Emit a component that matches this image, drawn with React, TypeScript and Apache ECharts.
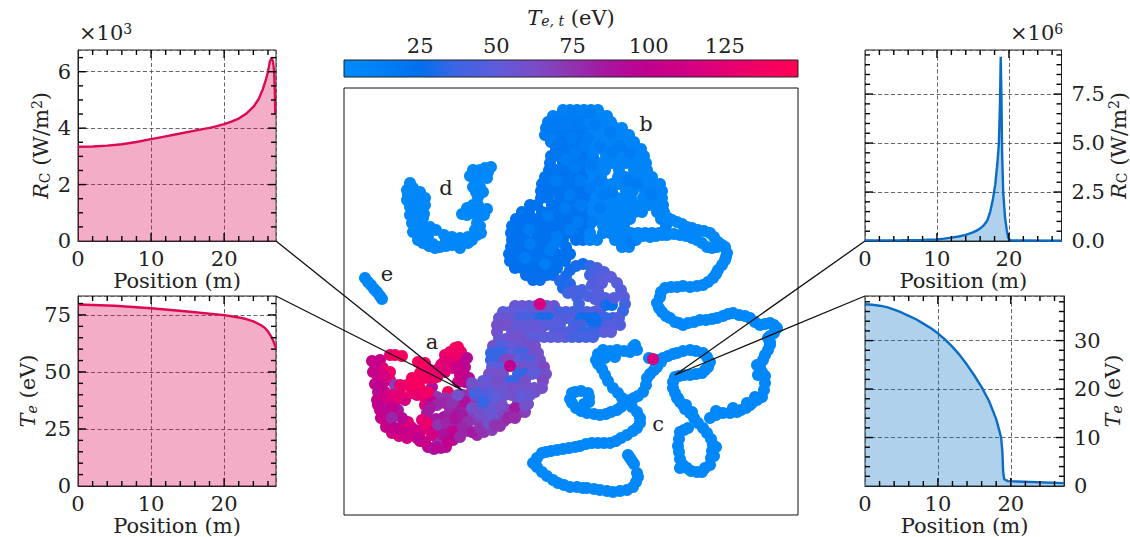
import React, { useEffect, useRef } from "react";
import * as echarts from "echarts";

// ---------- line panels ----------
const redRPos = [0, 2, 4, 6, 8, 10, 12, 14, 16, 18, 19, 20, 21, 22, 23, 24, 24.7, 25.3, 25.7, 26, 26.25, 26.5, 26.7, 26.85, 26.95, 27];
const redRVal = [3.34, 3.35, 3.38, 3.43, 3.51, 3.61, 3.71, 3.81, 3.91, 4.01, 4.07, 4.14, 4.23, 4.34, 4.51, 4.75, 5.02, 5.38, 5.7, 6.0, 6.35, 6.5, 6.35, 6.0, 5.2, 4.5];
const redTPos = [0, 5, 10, 15, 20, 21, 22, 23, 24, 25, 25.5, 26, 26.5, 26.8, 27.1];
const redTVal = [79.6, 79.0, 77.9, 76.5, 74.9, 74.4, 73.9, 73.2, 72.2, 70.6, 69.5, 67.8, 65.2, 63, 60.5];
const blueRPos = [0, 5, 8, 10, 11, 12, 13, 14, 15, 15.5, 16, 16.5, 17, 17.4, 17.76, 18.1, 18.4, 18.6, 18.75, 18.86, 18.95, 19.05, 19.2, 19.45, 19.7, 19.9, 20.2, 27.3];
const blueRVal = [0.03, 0.04, 0.05, 0.08, 0.12, 0.17, 0.23, 0.31, 0.44, 0.53, 0.64, 0.8, 1.05, 1.5, 2.1, 2.9, 4.0, 5.0, 7.0, 9.4, 7.5, 4.5, 2.5, 1.2, 0.55, 0.15, 0.03, 0.01];
const blueTPos = [0, 1, 2, 3, 4, 5, 6, 7, 8, 9, 10, 11, 12, 13, 14, 15, 16, 17, 18, 18.5, 18.67, 18.85, 18.95, 19.1, 19.6, 27.3];
const blueTVal = [37.5, 37.4, 37.2, 36.9, 36.4, 35.8, 35.1, 34.4, 33.5, 32.6, 31.5, 30.2, 28.7, 27, 25, 22.8, 20.4, 17.6, 13.8, 11, 10, 7, 3, 1.4, 1.0, 0.6];

// ---------- tick labels ----------
const posTicks = [0, 10, 20];
const posMinor = [2, 4, 6, 8, 12, 14, 16, 18, 22, 24, 26];
const rcLeftTicks = [0, 2, 4, 6];
const rcLeftMinor = [0.5, 1, 1.5, 2.5, 3, 3.5, 4.5, 5, 5.5, 6.5];
const teLeftTicks = [0, 25, 50, 75];
const teLeftMinor = [5, 10, 15, 20, 30, 35, 40, 45, 55, 60, 65, 70, 80];
const rcRightTicks = [0, 2.5, 5, 7.5];
const rcRightMinor = [0.5, 1, 1.5, 2, 3, 3.5, 4, 4.5, 5.5, 6, 6.5, 7, 8, 8.5, 9, 9.5];
const teRightTicks = [0, 10, 20, 30];
const teRightMinor = [2, 4, 6, 8, 12, 14, 16, 18, 22, 24, 26, 28, 32, 34, 36, 38];
const colorbarTicks = [25, 50, 75, 100, 125];

const colorStops = ["#008bfb", "#007ff6", "#0070ee", "#3f64e3", "#5c5cdb", "#7a4dc8", "#9034b0", "#a8149f", "#c0008f", "#d00085", "#e20075", "#f20064", "#ff0052"];

// ---------- embedding points ----------
// rows: [y, T, x, x, ...]
const bLeftRows = [
  [110, 10, 563, 570, 577, 584],
  [116, 12, 553, 560, 567, 574, 581, 588],
  [122, 14, 548, 555, 562, 569, 576, 583],
  [128, 16, 546, 553, 560, 567, 574, 581, 588],
  [135, 18, 545, 552, 561, 568, 575, 582],
  [142, 18, 551, 557, 564, 571, 578, 585],
  [149, 20, 556, 563, 570, 577, 588],
  [156, 20, 551, 558, 565, 572, 579, 586],
  [163, 20, 550, 563, 570, 577, 584],
  [170, 21, 549, 556, 563, 570, 577, 584],
  [177, 21, 545, 552, 559, 566, 573, 580, 587],
  [184, 21, 542, 549, 556, 563, 570, 577, 584],
  [191, 22, 541, 548, 555, 562, 569, 576, 583],
  [198, 22, 541, 548, 560, 567, 574, 581, 589],
  [205, 22, 530, 537, 552, 559, 566, 573, 586],
  [212, 23, 522, 529, 542, 549, 556, 563, 570, 577, 585],
  [219, 23, 516, 523, 530, 537, 544, 551, 558, 565, 572, 579, 586],
  [226, 23, 512, 519, 526, 533, 540, 547, 554, 561, 568, 575, 582, 589],
  [233, 23, 511, 518, 525, 537, 544, 551, 564, 571, 583],
  [240, 23, 512, 519, 526, 535, 542, 549, 556, 563, 576, 583],
  [247, 24, 511, 518, 525, 532, 539, 546, 553, 566],
  [254, 24, 509, 516, 523, 530, 537, 544, 557, 564, 570],
  [261, 24, 510, 517, 524, 531, 538, 545, 552, 559, 565],
  [268, 25, 515, 522, 529, 536, 543, 550, 557],
  [275, 26, 526, 533, 540, 547, 553],
  [280, 26, 533, 540],
];
const bRightRows = [
  [110, 6, 591, 598],
  [116, 6, 595, 602, 607],
  [122, 7, 590, 597, 604, 611],
  [128, 7, 595, 602, 609, 616, 622],
  [135, 7, 591, 598, 605, 615, 622, 629],
  [142, 7, 592, 599, 606, 613, 620, 627, 634],
  [149, 7, 595, 602, 609, 616, 623, 630, 637, 641],
  [156, 7, 593, 606, 613, 620, 627, 634, 641, 644],
  [163, 7, 598, 605, 612, 619, 626, 636, 643, 646],
  [170, 7, 591, 598, 605, 619, 634, 641, 647],
  [177, 7, 594, 601, 618, 625, 632, 639, 646, 652],
  [184, 7, 591, 598, 605, 612, 619, 626, 633, 640, 647, 654, 660],
  [191, 7, 597, 604, 611, 626, 633, 645, 657, 662],
  [198, 7, 596, 603, 610, 617, 624, 631, 643, 650, 657, 662],
  [205, 7, 593, 600, 607, 614, 621, 628, 635, 642, 649, 656, 663],
  [212, 7, 593, 600, 607, 614, 621, 628, 635, 642, 657, 664],
  [219, 7, 596, 603, 610, 617, 624, 630, 661, 667],
  [226, 7, 603, 610, 617, 624, 666],
  [233, 7, 590, 603, 610, 617, 624, 631, 638, 645, 652, 659, 665],
  [240, 7, 590, 597, 615, 622, 629, 636],
  [247, 7, 622, 629],
];
const bFill = [[572, 113], [590, 113], [565, 125], [595, 125], [550, 138], [572, 138], [588, 138], [610, 132], [585, 146], [600, 146], [620, 146], [575, 153], [592, 160], [612, 152], [630, 153], [566, 160], [575, 167], [591, 166], [628, 180], [556, 181], [580, 181], [599, 181], [612, 192], [637, 184], [651, 194], [590, 188], [570, 195], [603, 195], [581, 205], [548, 216], [565, 208], [600, 208], [578, 222], [592, 222], [529, 230], [557, 237], [570, 230], [530, 244], [555, 244], [525, 258], [550, 250], [545, 264], [631, 242]];
const bStrandRight = [[668, 218], [672, 220], [677, 222], [682, 224], [687, 227], [692, 228], [698, 230], [704, 231], [710, 233], [714, 237], [718, 242], [722, 245], [725, 247], [727, 253], [726, 257], [725, 260], [722, 265], [718, 270], [716, 274], [713, 278], [708, 282], [703, 285], [697, 286], [690, 287], [683, 286], [677, 287], [671, 287], [665, 288], [661, 292], [660, 297]];
const bStrandLower = [[637, 235], [643, 236], [650, 237], [656, 236], [662, 235], [667, 235], [674, 234], [680, 235], [686, 236], [692, 238], [697, 240], [702, 243], [707, 247], [712, 248], [717, 247]];
const cUpper = [[657, 303], [659, 308], [662, 312], [666, 316], [670, 318], [675, 322], [679, 323], [683, 325], [688, 323], [694, 322], [700, 320], [706, 320], [712, 319], [717, 318], [723, 316], [728, 314], [733, 313], [739, 315], [745, 316], [750, 318], [755, 322], [760, 325], [765, 324], [770, 323], [774, 325], [777, 328], [774, 333], [770, 336], [768, 338], [770, 342], [770, 345], [768, 350], [765, 355], [763, 360], [760, 367], [762, 372], [765, 376], [765, 383], [764, 390], [762, 397], [757, 400], [752, 403], [750, 405], [746, 408], [741, 410], [737, 412], [730, 413], [723, 413], [716, 415], [710, 418], [755, 397], [747, 403], [733, 408], [716, 411], [757, 365], [758, 375]];
const cLoopLeft = [[635, 345], [637, 350], [633, 347], [630, 352], [624, 351], [617, 350], [610, 351], [603, 350], [598, 354], [596, 360], [598, 364], [602, 369], [605, 375], [608, 381], [613, 388], [618, 393], [622, 398], [627, 402], [632, 407], [637, 412], [640, 418], [640, 423], [637, 428], [633, 431], [627, 435], [621, 438], [616, 441], [610, 443], [604, 443], [598, 443], [592, 443], [586, 444], [580, 446], [575, 447], [569, 448], [563, 449], [557, 450], [551, 451], [546, 452], [542, 453], [537, 458], [533, 463], [537, 467], [542, 472], [547, 476], [553, 480], [558, 483], [564, 485], [570, 487], [577, 487], [583, 488], [587, 488], [594, 489], [600, 490], [607, 491], [613, 492], [620, 491], [627, 490], [633, 487], [636, 482], [638, 477], [637, 473], [615, 357], [605, 358]];
const cFragment = [[628, 455], [630, 458], [632, 461], [634, 464]];
const cLoopRight = [[649, 358], [658, 360], [663, 358], [668, 356], [673, 354], [677, 353], [683, 351], [690, 350], [696, 351], [703, 353], [707, 357], [710, 362], [708, 367], [705, 370], [702, 373], [696, 374], [690, 375], [684, 375], [679, 376], [675, 377], [673, 382], [673, 388], [675, 393], [677, 398], [680, 402], [683, 405], [685, 409], [690, 413], [694, 418], [698, 423], [703, 428], [707, 433], [711, 439], [713, 445], [712, 451], [711, 458], [710, 465], [705, 468], [702, 472], [697, 472], [691, 471], [687, 468], [683, 465], [680, 459], [679, 452], [678, 446], [679, 439], [680, 432], [684, 430], [688, 428], [678, 398], [686, 405], [692, 412], [716, 447], [714, 456], [680, 468]];
const cCross = [[661, 362], [656, 363], [657, 367], [654, 370], [650, 374], [647, 378], [646, 385], [643, 392], [638, 396], [634, 398], [630, 400], [625, 404], [621, 407], [617, 410], [611, 412], [606, 414], [600, 415], [594, 414], [587, 413], [581, 411], [576, 408], [572, 403], [570, 399], [572, 393], [575, 392], [581, 391], [588, 393], [589, 397], [589, 402], [584, 404]];
const dPoints = [[410, 183], [413, 188], [420, 192], [408, 195], [425, 198], [407, 200], [413, 202], [425, 205], [410, 207], [422, 210], [410, 215], [423, 218], [412, 223], [420, 223], [413, 232], [422, 230], [430, 227], [418, 240], [428, 237], [436, 230], [440, 247], [444, 235], [433, 244], [452, 237], [452, 245], [460, 248], [460, 238], [468, 237], [468, 243], [477, 235], [475, 230], [477, 223], [462, 214], [467, 208], [473, 205], [473, 213], [480, 215], [487, 209], [478, 205], [478, 197], [473, 187], [480, 187], [473, 177], [473, 170], [480, 170], [485, 175], [491, 167], [487, 178], [485, 168],
  [416, 195], [420, 200], [416, 208], [417, 215], [414, 196], [418, 203], [416, 222], [407, 190], [424, 214], [416, 228], [423, 243], [429, 246], [446, 240], [446, 246], [435, 248], [456, 241], [464, 241], [472, 240], [481, 233], [480, 226], [483, 212], [476, 192], [483, 192], [476, 181], [470, 176], [488, 172], [467, 215], [476, 208], [484, 215]];
const ePoints = [[365, 278], [368, 282], [371, 285], [374, 289], [377, 292], [380, 296], [382, 299]];

const ringPoints = [[560, 281, 32], [566, 276, 30], [570, 270, 28], [576, 266, 30], [583, 264, 28], [590, 266, 35], [597, 268, 40], [604, 272, 45], [611, 277, 50], [617, 283, 48], [621, 290, 45], [624, 297, 50], [625, 304, 40], [623, 311, 35], [618, 318, 45], [563, 288, 30], [570, 284, 32], [568, 293, 38], [575, 291, 42], [582, 290, 40], [590, 275, 38], [596, 279, 45], [602, 283, 50], [592, 285, 45], [598, 291, 48], [605, 298, 45], [600, 303, 50], [606, 305, 30], [612, 305, 25], [614, 298, 48], [588, 296, 42], [577, 297, 40], [595, 299, 45], [579, 304, 38]];
// rows of the purple band: [y, T, x, ...]
const bandRows = [
  [306, 55, 515, 522, 529, 536, 547, 554],
  [312, 50, 503, 510, 517, 524, 531], [312, 55, 538, 545, 552], [312, 40, 559, 566, 573, 580], [312, 45, 587, 594, 600],
  [318, 55, 499, 506, 513], [318, 40, 520, 527, 534], [318, 30, 541, 548], [318, 45, 560, 567, 574], [318, 28, 581, 588, 595], [318, 35, 606, 613, 619],
  [325, 60, 497, 504, 511], [325, 52, 518, 525, 532, 539], [325, 48, 546, 553, 560], [325, 40, 574, 581], [325, 28, 593, 600], [325, 45, 607, 614, 620],
  [332, 60, 497], [332, 55, 512, 519, 526, 533, 540], [332, 45, 555, 562, 569, 576], [332, 35, 583, 590, 597], [332, 50, 604, 611],
  [337, 50, 530, 537, 544, 551, 558, 565], [337, 40, 572, 579, 586, 593],
  [339, 55, 499, 506], [339, 60, 513, 520],
  [346, 60, 493], [346, 45, 500, 507], [346, 55, 514, 521], [346, 60, 528, 535],
  [353, 35, 491, 498, 505], [353, 50, 512], [353, 40, 519, 526], [353, 60, 533, 538],
  [360, 35, 491, 498], [360, 65, 505, 512], [360, 50, 519], [360, 45, 526, 533], [360, 60, 540],
  [367, 50, 492, 499], [367, 60, 517, 524], [367, 55, 531, 538], [367, 65, 544],
  [374, 60, 489, 496, 503], [374, 35, 518, 525], [374, 50, 532, 539], [374, 60, 546],
  [381, 50, 483, 490], [381, 60, 497, 504], [381, 35, 511, 518], [381, 60, 525], [381, 65, 543],
  [388, 55, 485, 492, 499, 506], [388, 60, 513, 520, 527, 534],
];
const aPoints = [
  [390, 355, 135], [395, 355, 138], [402, 356, 140], [372, 361, 105], [380, 360, 105], [377, 368, 100], [378, 377, 105], [383, 368, 120], [390, 372, 135], [390, 380, 130], [383, 383, 110], [378, 392, 90], [385, 392, 110], [377, 400, 105], [387, 400, 120], [380, 410, 105], [385, 412, 90], [395, 402, 110], [398, 410, 85], [405, 400, 115], [400, 393, 130], [407, 385, 135], [415, 382, 140], [420, 373, 140], [412, 393, 135], [420, 388, 140], [425, 378, 140], [418, 362, 140], [425, 363, 140], [430, 370, 135], [437, 377, 130], [395, 385, 70],
  [432, 387, 90], [425, 398, 130], [437, 397, 75], [448, 392, 140], [445, 355, 130], [455, 348, 140], [458, 347, 140], [443, 363, 125], [452, 360, 125], [462, 362, 100], [465, 367, 95], [453, 368, 110], [445, 372, 125], [460, 375, 110], [465, 382, 100],
  [375, 369, 105], [384, 376, 115], [375, 384, 100], [381, 386, 100], [373, 372, 105], [382, 400, 110], [378, 405, 100], [381, 418, 100], [386, 422, 110], [383, 415, 105], [390, 425, 100], [388, 410, 95], [392, 395, 120], [398, 397, 125], [393, 408, 100], [386, 427, 105], [392, 433, 110], [399, 436, 115], [400, 428, 110], [411, 427, 125], [405, 425, 115], [412, 434, 105], [420, 433, 110], [420, 441, 105], [428, 447, 95], [434, 449, 90], [441, 448, 85], [446, 447, 95], [453, 440, 95], [456, 432, 90], [448, 430, 85], [440, 431, 85], [431, 429, 100], [424, 428, 120], [436, 419, 85], [444, 417, 85], [450, 411, 80], [458, 410, 85], [465, 409, 80], [459, 421, 80], [466, 431, 75], [470, 415, 70], [476, 420, 70], [483, 420, 65], [476, 406, 55], [488, 404, 50], [480, 399, 50], [490, 392, 45], [469, 395, 75], [459, 402, 85], [477, 435, 80], [484, 432, 75], [492, 430, 70], [500, 426, 75], [504, 421, 75], [499, 412, 60], [496, 418, 70], [508, 410, 70], [518, 402, 55], [505, 395, 55], [498, 391, 55], [518, 392, 55], [528, 404, 60], [520, 412, 75], [535, 392, 60],
  [412, 378, 140], [400, 385, 130], [417, 395, 130], [425, 405, 120], [432, 402, 100], [428, 392, 135], [432, 378, 135], [437, 370, 130], [441, 365, 125], [448, 365, 120], [456, 355, 130], [450, 352, 135], [461, 352, 135], [458, 368, 105], [458, 382, 110], [464, 374, 105], [469, 378, 95], [467, 358, 95], [437, 405, 80], [430, 408, 85], [455, 397, 70], [445, 398, 75], [451, 425, 85], [445, 403, 80], [463, 395, 75], [470, 401, 75], [464, 421, 85],
  [472, 387, 70], [475, 395, 65], [483, 385, 55], [483, 403, 45], [465, 402, 90], [452, 403, 75], [427, 413, 85], [422, 420, 125], [408, 422, 120], [402, 418, 95], [392, 418, 80], [395, 428, 100], [405, 432, 105], [415, 430, 110], [427, 423, 130], [438, 425, 75], [447, 423, 80], [455, 418, 90], [462, 415, 85], [468, 422, 75], [472, 408, 60], [480, 413, 60], [488, 410, 55], [462, 428, 80], [452, 432, 100], [438, 442, 70], [443, 435, 90], [432, 435, 115], [425, 442, 105], [417, 438, 100], [407, 438, 110], [448, 442, 100], [460, 437, 80], [437, 447, 95], [472, 432, 85], [480, 428, 75], [488, 423, 60], [493, 417, 55], [495, 398, 50], [485, 395, 45],
  [475, 393, 40], [472, 383, 60], [485, 383, 55], [498, 383, 60], [512, 395, 60], [492, 408, 55], [502, 405, 60], [522, 398, 50], [530, 395, 55], [542, 388, 60], [515, 408, 85], [525, 412, 70], [508, 418, 80], [495, 425, 75], [515, 418, 78], [525, 405, 60], [458, 395, 60], [483, 402, 35],
];
const hotPoints = [[540, 304, 118], [510, 366, 100], [653, 359, 118]];

const CORNER_A = [462, 390];
const CORNER_C = [675, 375];

const DARK = "#222";
const FONT = "DejaVu Serif";
const FS = 21;

function expandRows(rows: number[][]) {
  const out: number[][] = [];
  rows.forEach((r) => r.slice(2).forEach((x) => out.push([x, r[0], r[1]])));
  return out;
}
const withT = (pts: number[][], t: number) => pts.map((p) => [p[0], p[1], t]);
const zip = (a: number[], b: number[]) => a.map((v, i) => [v, b[i]]);

const nameRich = {
  n: { fontFamily: FONT, fontSize: FS, color: DARK },
  i: { fontFamily: FONT, fontSize: FS, fontStyle: "italic", color: DARK },
  s: { fontFamily: FONT, fontSize: 14, color: DARK, padding: [7, 0, 0, 0] },
  si: { fontFamily: FONT, fontSize: 14, fontStyle: "italic", color: DARK, padding: [7, 0, 0, 0] },
  u: { fontFamily: FONT, fontSize: 14, color: DARK, padding: [0, 0, 9, 0] },
};

type Panel = {
  left: number; top: number; width: number; height: number;
  xMax: number; yMax: number; yTicks: number[]; yMinor: number[]; yMajor: number;
  yRight: boolean; yName: string; yGap: number; yFmt?: (v: number) => string;
  data: number[][]; line: string; fill: string;
};

const panels: Panel[] = [
  { left: 78, top: 50, width: 198, height: 191, xMax: 27.1, yMax: 6.77, yTicks: rcLeftTicks, yMinor: rcLeftMinor, yMajor: 2, yRight: false, yName: "{i|R}{s|C}{n| (W/m}{u|2}{n|)}", yGap: 37, data: zip(redRPos, redRVal), line: "#dc0a52", fill: "rgba(222,0,80,0.32)" },
  { left: 78, top: 296, width: 198, height: 192, xMax: 27.1, yMax: 83.3, yTicks: teLeftTicks, yMinor: teLeftMinor, yMajor: 25, yRight: false, yName: "{i|T}{si|e}{n| (eV)}", yGap: 50, data: zip(redTPos, redTVal), line: "#dc0a52", fill: "rgba(222,0,80,0.32)" },
  { left: 865, top: 50, width: 199, height: 191, xMax: 27.3, yMax: 9.75, yTicks: rcRightTicks, yMinor: rcRightMinor, yMajor: 2.5, yRight: true, yName: "{i|R}{s|C}{n| (W/m}{u|2}{n|)}", yGap: 57, yFmt: (v) => v.toFixed(1), data: zip(blueRPos, blueRVal), line: "#0a6cc4", fill: "rgba(0,107,190,0.31)" },
  { left: 865, top: 296, width: 199, height: 192, xMax: 27.3, yMax: 39.2, yTicks: teRightTicks, yMinor: teRightMinor, yMajor: 10, yRight: true, yName: "{i|T}{si|e}{n| (eV)}", yGap: 49, data: zip(blueTPos, blueTVal), line: "#0a6cc4", fill: "rgba(0,107,190,0.31)" },
];

// tick marks: [value, side (0 bottom, 1 top, 2 left, 3 right), length]
function tickData(p: Panel) {
  const out: number[][] = [];
  const add = (vals: number[], sides: number[], len: number) =>
    vals.forEach((v) => sides.forEach((s) => { if (v > 0) out.push([v, s, len]); }));
  add(posTicks, [0, 1], 8);
  add(posMinor, [0, 1], 5);
  add(p.yTicks, [2, 3], 8);
  add(p.yMinor, [2, 3], 5);
  return out;
}

function tickRenderer(xMax: number, yMax: number) {
  return (_: any, api: any) => {
    const v = api.value(0);
    const side = api.value(1);
    const len = api.value(2);
    let a: number[];
    let dx = 0;
    let dy = 0;
    if (side === 0) { a = api.coord([v, 0]); dy = -len; }
    else if (side === 1) { a = api.coord([v, yMax]); dy = len; }
    else if (side === 2) { a = api.coord([0, v]); dx = len; }
    else { a = api.coord([xMax, v]); dx = -len; }
    return {
      type: "line",
      shape: { x1: a[0], y1: a[1], x2: a[0] + dx, y2: a[1] + dy },
      style: { stroke: "#000", lineWidth: 1.4 },
    };
  };
}

function buildOption() {
  const grid: any[] = [];
  const xAxis: any[] = [];
  const yAxis: any[] = [];
  const series: any[] = [];
  const gridSplit = { show: true, lineStyle: { color: "#555", width: 0.9, type: [4, 2.5] } };
  const labelStyle = { fontFamily: FONT, fontSize: FS, color: DARK };

  panels.forEach((p, gi) => {
    grid.push({ left: p.left, top: p.top, width: p.width, height: p.height, show: true, borderColor: DARK, borderWidth: 1 });
    const base = { gridIndex: gi, type: "value", min: 0 };
    xAxis.push({
      ...base, max: p.xMax, interval: 10, position: "bottom",
      axisLine: { show: true, onZero: false, lineStyle: { color: DARK, width: 1 } },
      axisTick: { show: false }, splitLine: gridSplit,
      axisLabel: { ...labelStyle, margin: 7, customValues: posTicks },
      name: "Position (m)", nameLocation: "middle", nameGap: 29, nameTextStyle: labelStyle, nameMoveOverlap: false,
    });
    yAxis.push({
      ...base, max: p.yMax, interval: p.yMajor, position: p.yRight ? "right" : "left",
      axisLine: { show: true, onZero: false, lineStyle: { color: DARK, width: 1 } },
      axisTick: { show: false }, splitLine: gridSplit,
      axisLabel: { ...labelStyle, margin: p.yRight ? 10 : 7, customValues: p.yTicks, formatter: p.yFmt || ((v: number) => String(v)) },
      name: p.yName, nameLocation: "middle", nameGap: p.yGap, nameRotate: 90, nameMoveOverlap: false,
      nameTextStyle: { ...labelStyle, rich: nameRich, verticalAlign: "middle" },
    });
    series.push({
      type: "line", xAxisIndex: gi, yAxisIndex: gi, data: p.data, showSymbol: false,
      lineStyle: { color: p.line, width: 2.4 }, itemStyle: { color: p.line },
      areaStyle: { color: p.fill, opacity: 1, origin: "start" }, silent: true,
    });
    series.push({
      type: "custom", xAxisIndex: gi, yAxisIndex: gi, data: tickData(p), silent: true, clip: false, z: 20,
      renderItem: tickRenderer(p.xMax, p.yMax),
    });
  });

  // colour bar
  grid.push({ left: 344, top: 60, width: 454, height: 17, show: true, borderColor: DARK, borderWidth: 1, z: 5 });
  const cbIndex = grid.length - 1;
  const cbX = xAxis.length;
  xAxis.push({
    gridIndex: cbIndex, type: "value", min: 0, max: 149, position: "top",
    axisLine: { show: false, onZero: false }, axisTick: { show: false }, splitLine: { show: false },
    axisLabel: { ...labelStyle, margin: 4, customValues: colorbarTicks },
    name: "{i|T}{si|e, t}{n| (eV)}", nameLocation: "middle", nameGap: 32, nameMoveOverlap: false,
    nameTextStyle: { ...labelStyle, rich: nameRich },
  });
  const cbY = yAxis.length;
  yAxis.push({ gridIndex: cbIndex, type: "value", min: 0, max: 1, show: false });
  series.push({
    type: "line", xAxisIndex: cbX, yAxisIndex: cbY, data: [[0, 1], [149, 1]], showSymbol: false,
    lineStyle: { width: 0 }, silent: true,
    areaStyle: {
      opacity: 1,
      color: new echarts.graphic.LinearGradient(0, 0, 1, 0, colorStops.map((c, i) => ({ offset: i / (colorStops.length - 1), color: c }))),
    },
  });

  // embedding
  grid.push({ left: 344, top: 88, width: 454, height: 427, show: true, borderColor: "#111", borderWidth: 1, backgroundColor: "#fff" });
  const emb = grid.length - 1;
  const ex = xAxis.length;
  xAxis.push({ gridIndex: emb, type: "value", min: 344, max: 798, show: false });
  const ey = yAxis.length;
  yAxis.push({ gridIndex: emb, type: "value", min: 88, max: 515, inverse: true, show: false });
  const points = [
    ...withT(dPoints, 3), ...withT(ePoints, 3),
    ...expandRows(bLeftRows), ...expandRows(bRightRows), ...withT(bFill, 14),
    ...withT(bStrandRight, 4), ...withT(bStrandLower, 4),
    ...withT(cUpper, 3), ...withT(cLoopLeft, 3), ...withT(cFragment, 3), ...withT(cLoopRight, 3), ...withT(cCross, 3),
    ...expandRows(bandRows), ...ringPoints, ...aPoints, ...hotPoints,
  ];
  const scatterIndex = series.length;
  series.push({ type: "scatter", xAxisIndex: ex, yAxisIndex: ey, data: points, symbolSize: 12, silent: true, itemStyle: { opacity: 1 } });

  const letter = (t: string, x: number, y: number) => ({ type: "text", x, y, z: 100, style: { text: t, fontFamily: FONT, fontSize: FS, fill: DARK, align: "center", verticalAlign: "middle" } });
  const connector = (x1: number, y1: number, p: number[]) => ({ type: "line", z: 90, shape: { x1, y1, x2: p[0], y2: p[1] }, style: { stroke: "#111", lineWidth: 1.3 } });
  const exponent = (sup: string, x: number, y: number) => ({
    type: "text", x, y, z: 100,
    style: { text: `{n|×10}{u|${sup}}`, rich: nameRich, fontFamily: FONT, fontSize: FS, fill: DARK, align: "left", verticalAlign: "middle" },
  });

  return {
    animation: false,
    backgroundColor: "#fff",
    grid, xAxis, yAxis, series,
    visualMap: { show: false, type: "continuous", min: 0, max: 149, dimension: 2, seriesIndex: scatterIndex, inRange: { color: colorStops } },
    graphic: [
      connector(276, 241, CORNER_A), connector(276, 296, CORNER_A),
      connector(865, 241, CORNER_C), connector(865, 296, CORNER_C),
      letter("a", 432, 342), letter("b", 646, 124), letter("c", 658, 424), letter("d", 446, 188), letter("e", 387, 274),
      exponent("3", 79, 33), exponent("6", 1010, 33),
    ],
  };
}

export default function App() {
  const ref = useRef<HTMLDivElement>(null);
  useEffect(() => {
    document.body.style.margin = "0";
    const chart = echarts.init(ref.current!, undefined, { renderer: "svg" });
    chart.setOption(buildOption() as any);
    return () => chart.dispose();
  }, []);
  return <div ref={ref} style={{ position: "absolute", left: 0, top: 0, width: 1130, height: 537 }} />;
}
